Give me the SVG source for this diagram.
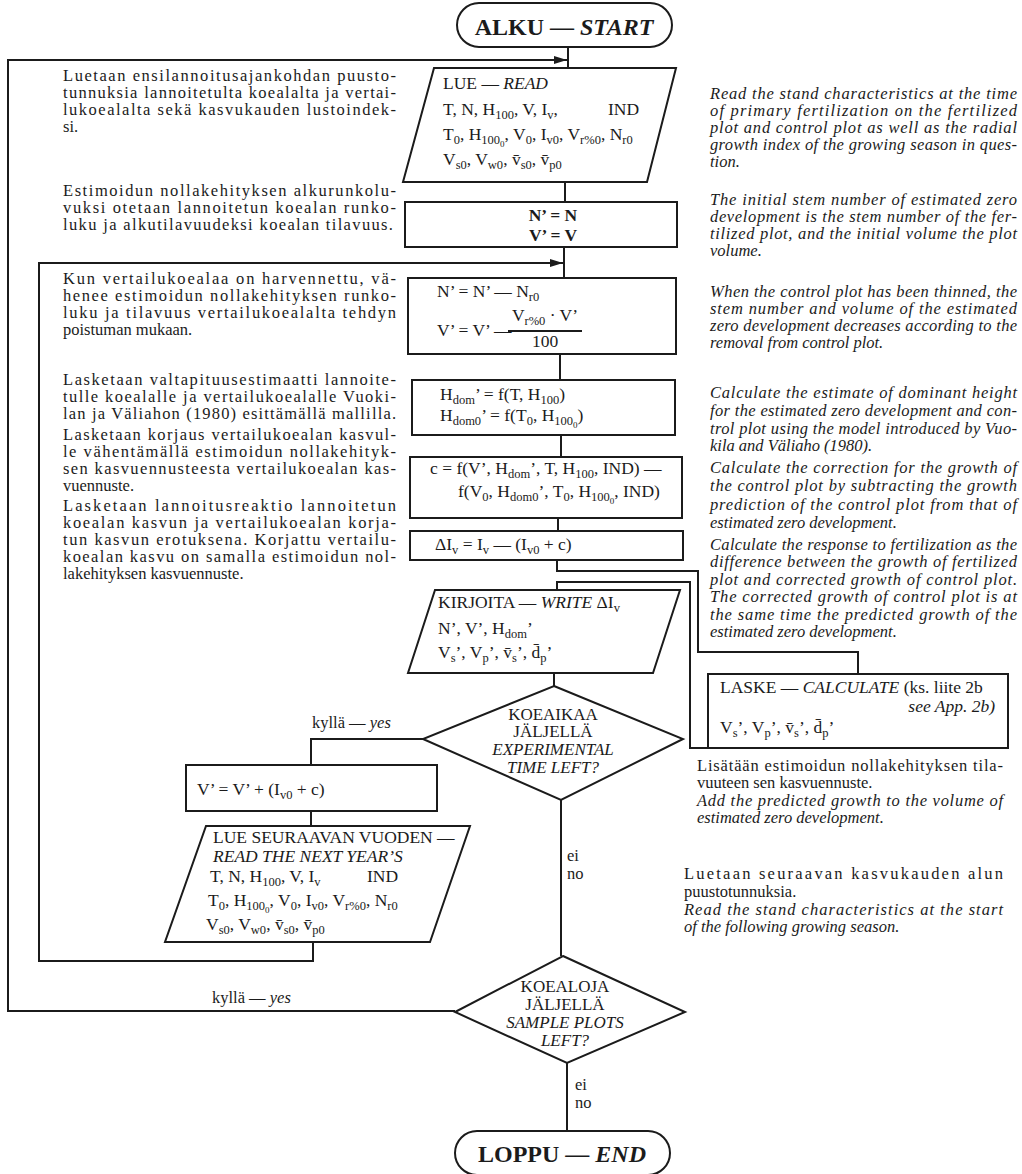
<svg xmlns="http://www.w3.org/2000/svg" width="1022" height="1174" viewBox="0 0 1022 1174">
<style>
.bx{fill:none;stroke:#1b1b1b;stroke-width:2}
.ln{fill:none;stroke:#1b1b1b;stroke-width:2}
text{font-family:"Liberation Serif","Times New Roman",serif;fill:#1b1b1b}
.f{font-size:17.5px}
.p{font-size:16.5px}
.i{font-style:italic}
.b{font-weight:bold}
.term{font-size:24px;font-weight:bold}
.s{font-size:12.5px;baseline-shift:-4px}
.ss{font-size:9px;baseline-shift:-3px}
.dm{font-size:17px}
</style>
<defs>
<marker id="ar" markerUnits="userSpaceOnUse" markerWidth="14" markerHeight="10" refX="13" refY="5" orient="auto">
<path d="M0,1 L13,5 L0,9 z" fill="#1b1b1b"/>
</marker>
</defs>
<rect width="1022" height="1174" fill="#fff"/>

<g id="connectors">
<path class="ln" d="M568,47 V68"/>
<path class="ln" d="M455,1011 H8 V60 H567" marker-end="url(#ar)"/>
<path class="ln" d="M565,182 V202"/>
<path class="ln" d="M313,942 V961 H39 V263 H563" marker-end="url(#ar)"/>
<path class="ln" d="M564,247 V278"/>
<path class="ln" d="M560,354 V380"/>
<path class="ln" d="M561,435 V457"/>
<path class="ln" d="M558,518 V531"/>
<path class="ln" d="M557,560 V571 H698 V652 H858 V674"/>
<path class="ln" d="M708,748 H690 V582 H557 V590"/>
<path class="ln" d="M554,673 V686"/>
<path class="ln" d="M423,739 H311 V765"/>
<path class="ln" d="M311,811 V826"/>
<path class="ln" d="M561,800 V956"/>
<path class="ln" d="M567,1063 V1131"/>
<text class="p" x="312" y="728">kyllä — <tspan class="i">yes</tspan></text>
<text class="p" x="212" y="1003">kyllä — <tspan class="i">yes</tspan></text>
<text class="p" x="567" y="861">ei</text>
<text class="p" x="567" y="879">no</text>
<text class="p" x="575" y="1090">ei</text>
<text class="p" x="575" y="1108">no</text>
</g>

<g id="start">
<rect class="bx" x="457" y="3" width="215" height="44" rx="22"/>
<text class="term" x="564" y="35" text-anchor="middle">ALKU — <tspan class="i">START</tspan></text>
</g>

<g id="read">
<polygon class="bx" points="434,68 676,68 647,182 403,182"/>
<text class="f" x="443" y="89">LUE — <tspan class="i">READ</tspan></text>
<text class="f" x="443" y="115">T, N, H<tspan class="s">100</tspan>, V, I<tspan class="s">v</tspan>,</text>
<text class="f" x="608" y="115">IND</text>
<text class="f" x="443" y="140">T<tspan class="s">0</tspan>, H<tspan class="s">100<tspan class="ss">0</tspan></tspan>, V<tspan class="s">0</tspan>, I<tspan class="s">v0</tspan>, V<tspan class="s">r%0</tspan>, N<tspan class="s">r0</tspan></text>
<text class="f" x="443" y="165">V<tspan class="s">s0</tspan>, V<tspan class="s">w0</tspan>, v&#x304;<tspan class="s">s0</tspan>, v&#x304;<tspan class="s">p0</tspan></text>
</g>

<g id="init">
<rect class="bx" x="405" y="202" width="272" height="45"/>
<text class="f b" x="553" y="221" text-anchor="middle" font-size="19">N’ = N</text>
<text class="f b" x="553" y="241" text-anchor="middle" font-size="19">V’ = V</text>
</g>

<g id="thin">
<rect class="bx" x="408" y="278" width="268" height="76"/>
<text class="f" x="437" y="297">N’ = N’ — N<tspan class="s">r0</tspan></text>
<text class="f" x="437" y="336">V’ = V’ —</text>
<text class="f" x="545" y="321" text-anchor="middle">V<tspan class="s">r%0</tspan> · V’</text>
<path class="ln" d="M508,331 H582" stroke-width="1.5"/>
<text class="f" x="545" y="347" text-anchor="middle">100</text>
</g>

<g id="hdom">
<rect class="bx" x="412" y="380" width="263" height="55"/>
<text class="f" x="440" y="400">H<tspan class="s">dom</tspan>’ = f(T, H<tspan class="s">100</tspan>)</text>
<text class="f" x="440" y="421">H<tspan class="s">dom0</tspan>’ = f(T<tspan class="s">0</tspan>, H<tspan class="s">100<tspan class="ss">0</tspan></tspan>)</text>
</g>

<g id="corr">
<rect class="bx" x="410" y="457" width="272" height="61"/>
<text class="f" x="430" y="474">c = f(V’, H<tspan class="s">dom</tspan>’, T, H<tspan class="s">100</tspan>, IND) —</text>
<text class="f" x="458" y="497">f(V<tspan class="s">0</tspan>, H<tspan class="s">dom0</tspan>’, T<tspan class="s">0</tspan>, H<tspan class="s">100<tspan class="ss">0</tspan></tspan>, IND)</text>
</g>

<g id="resp">
<rect class="bx" x="410" y="531" width="273" height="29"/>
<text class="f" x="435" y="550">ΔI<tspan class="s">v</tspan> = I<tspan class="s">v</tspan> — (I<tspan class="s">v0</tspan> + c)</text>
</g>

<g id="write">
<polygon class="bx" points="435,590 680,590 653,673 408,673"/>
<text class="f" x="438" y="608">KIRJOITA — <tspan class="i">WRITE</tspan> ΔI<tspan class="s">v</tspan></text>
<text class="f" x="438" y="634">N’, V’, H<tspan class="s">dom</tspan>’</text>
<text class="f" x="438" y="658">V<tspan class="s">s</tspan>’, V<tspan class="s">p</tspan>’, v&#x304;<tspan class="s">s</tspan>’, d&#x304;<tspan class="s">p</tspan>’</text>
</g>

<g id="calc">
<rect class="bx" x="708" y="674" width="300" height="74"/>
<text class="f" x="720" y="693">LASKE — <tspan class="i">CALCULATE</tspan> (ks. liite 2b</text>
<text class="f i" x="995" y="712" text-anchor="end">see App. 2b)</text>
<text class="f" x="720" y="733">V<tspan class="s">s</tspan>’, V<tspan class="s">p</tspan>’, v&#x304;<tspan class="s">s</tspan>’, d&#x304;<tspan class="s">p</tspan>’</text>
</g>

<g id="dec1">
<polygon class="bx" points="554,686 683,739 561,800 423,739"/>
<text class="dm" x="553" y="720" text-anchor="middle">KOEAIKAA</text>
<text class="dm" x="553" y="737" text-anchor="middle">JÄLJELLÄ</text>
<text class="dm i" x="553" y="755" text-anchor="middle">EXPERIMENTAL</text>
<text class="dm i" x="553" y="773" text-anchor="middle">TIME LEFT?</text>
</g>

<g id="update">
<rect class="bx" x="186" y="765" width="251" height="46"/>
<text class="f" x="197" y="795">V’ = V’ + (I<tspan class="s">v0</tspan> + c)</text>
</g>

<g id="readnext">
<polygon class="bx" points="206,826 470,826 430,942 165,942"/>
<text class="f" x="213" y="843">LUE SEURAAVAN VUODEN —</text>
<text class="f i" x="213" y="862">READ THE NEXT YEAR’S</text>
<text class="f" x="210" y="882">T, N, H<tspan class="s">100</tspan>, V, I<tspan class="s">v</tspan></text>
<text class="f" x="367" y="882">IND</text>
<text class="f" x="208" y="906">T<tspan class="s">0</tspan>, H<tspan class="s">100<tspan class="ss">0</tspan></tspan>, V<tspan class="s">0</tspan>, I<tspan class="s">v0</tspan>, V<tspan class="s">r%0</tspan>, N<tspan class="s">r0</tspan></text>
<text class="f" x="206" y="930">V<tspan class="s">s0</tspan>, V<tspan class="s">w0</tspan>, v&#x304;<tspan class="s">s0</tspan>, v&#x304;<tspan class="s">p0</tspan></text>
</g>

<g id="dec2">
<polygon class="bx" points="563,956 685,1012 567,1063 455,1012"/>
<text class="dm" x="565" y="992" text-anchor="middle">KOEALOJA</text>
<text class="dm" x="565" y="1010" text-anchor="middle">JÄLJELLÄ</text>
<text class="dm i" x="565" y="1028" text-anchor="middle">SAMPLE PLOTS</text>
<text class="dm i" x="565" y="1046" text-anchor="middle">LEFT?</text>
</g>

<g id="end">
<rect class="bx" x="455" y="1131" width="215" height="44" rx="22"/>
<text class="term" x="562" y="1162" text-anchor="middle">LOPPU — <tspan class="i">END</tspan></text>
</g>

<g id="notes-fi">
<text class="p" x="63" y="81" textLength="333" lengthAdjust="spacing">Luetaan ensilannoitusajankohdan puusto-</text>
<text class="p" x="63" y="98" textLength="333" lengthAdjust="spacing">tunnuksia lannoitetulta koealalta ja vertai-</text>
<text class="p" x="63" y="115" textLength="333" lengthAdjust="spacing">lukoealalta sekä kasvukauden lustoindek-</text>
<text class="p" x="63" y="132">si.</text>

<text class="p" x="63" y="196" textLength="333" lengthAdjust="spacing">Estimoidun nollakehityksen alkurunkolu-</text>
<text class="p" x="63" y="213" textLength="333" lengthAdjust="spacing">vuksi otetaan lannoitetun koealan runko-</text>
<text class="p" x="63" y="230" textLength="330" lengthAdjust="spacing">luku ja alkutilavuudeksi koealan tilavuus.</text>

<text class="p" x="63" y="284" textLength="333" lengthAdjust="spacing">Kun vertailukoealaa on harvennettu, vä-</text>
<text class="p" x="63" y="301" textLength="333" lengthAdjust="spacing">henee estimoidun nollakehityksen runko-</text>
<text class="p" x="63" y="318" textLength="333" lengthAdjust="spacing">luku ja tilavuus vertailukoealalta tehdyn</text>
<text class="p" x="63" y="335">poistuman mukaan.</text>

<text class="p" x="63" y="385" textLength="333" lengthAdjust="spacing">Lasketaan valtapituusestimaatti lannoite-</text>
<text class="p" x="63" y="402" textLength="333" lengthAdjust="spacing">tulle koealalle ja vertailukoealalle Vuoki-</text>
<text class="p" x="63" y="419" textLength="333" lengthAdjust="spacing">lan ja Väliahon (1980) esittämällä mallilla.</text>

<text class="p" x="63" y="440" textLength="333" lengthAdjust="spacing">Lasketaan korjaus vertailukoealan kasvul-</text>
<text class="p" x="63" y="457" textLength="333" lengthAdjust="spacing">le vähentämällä estimoidun nollakehityk-</text>
<text class="p" x="63" y="474" textLength="333" lengthAdjust="spacing">sen kasvuennusteesta vertailukoealan kas-</text>
<text class="p" x="63" y="491">vuennuste.</text>

<text class="p" x="63" y="511" textLength="333" lengthAdjust="spacing">Lasketaan lannoitusreaktio lannoitetun</text>
<text class="p" x="63" y="528" textLength="333" lengthAdjust="spacing">koealan kasvun ja vertailukoealan korja-</text>
<text class="p" x="63" y="545" textLength="333" lengthAdjust="spacing">tun kasvun erotuksena. Korjattu vertailu-</text>
<text class="p" x="63" y="562" textLength="333" lengthAdjust="spacing">koealan kasvu on samalla estimoidun nol-</text>
<text class="p" x="63" y="579">lakehityksen kasvuennuste.</text>

<text class="p" x="697" y="771" textLength="306" lengthAdjust="spacing">Lisätään estimoidun nollakehityksen tila-</text>
<text class="p" x="697" y="788">vuuteen sen kasvuennuste.</text>
<text class="p" x="684" y="879" textLength="319" lengthAdjust="spacing">Luetaan seuraavan kasvukauden alun</text>
<text class="p" x="684" y="897">puustotunnuksia.</text>
</g>

<g id="notes-en">
<text class="p i" x="710" y="99" textLength="307" lengthAdjust="spacing">Read the stand characteristics at the time</text>
<text class="p i" x="710" y="116" textLength="307" lengthAdjust="spacing">of primary fertilization on the fertilized</text>
<text class="p i" x="710" y="133" textLength="307" lengthAdjust="spacing">plot and control plot as well as the radial</text>
<text class="p i" x="710" y="150" textLength="307" lengthAdjust="spacing">growth index of the growing season in ques-</text>
<text class="p i" x="710" y="167">tion.</text>

<text class="p i" x="710" y="205" textLength="307" lengthAdjust="spacing">The initial stem number of estimated zero</text>
<text class="p i" x="710" y="222" textLength="307" lengthAdjust="spacing">development is the stem number of the fer-</text>
<text class="p i" x="710" y="239" textLength="307" lengthAdjust="spacing">tilized plot, and the initial volume the plot</text>
<text class="p i" x="710" y="256">volume.</text>

<text class="p i" x="710" y="297" textLength="307" lengthAdjust="spacing">When the control plot has been thinned, the</text>
<text class="p i" x="710" y="314" textLength="307" lengthAdjust="spacing">stem number and volume of the estimated</text>
<text class="p i" x="710" y="331" textLength="307" lengthAdjust="spacing">zero development decreases according to the</text>
<text class="p i" x="710" y="348">removal from control plot.</text>

<text class="p i" x="710" y="398" textLength="307" lengthAdjust="spacing">Calculate the estimate of dominant height</text>
<text class="p i" x="710" y="416" textLength="307" lengthAdjust="spacing">for the estimated zero development and con-</text>
<text class="p i" x="710" y="434" textLength="307" lengthAdjust="spacing">trol plot using the model introduced by Vuo-</text>
<text class="p i" x="710" y="451">kila and Väliaho (1980).</text>

<text class="p i" x="710" y="473" textLength="307" lengthAdjust="spacing">Calculate the correction for the growth of</text>
<text class="p i" x="710" y="491" textLength="307" lengthAdjust="spacing">the control plot by subtracting the growth</text>
<text class="p i" x="710" y="510" textLength="307" lengthAdjust="spacing">prediction of the control plot from that of</text>
<text class="p i" x="710" y="528">estimated zero development.</text>

<text class="p i" x="710" y="550" textLength="307" lengthAdjust="spacing">Calculate the response to fertilization as the</text>
<text class="p i" x="710" y="567" textLength="307" lengthAdjust="spacing">difference between the growth of fertilized</text>
<text class="p i" x="710" y="585" textLength="307" lengthAdjust="spacing">plot and corrected growth of control plot.</text>
<text class="p i" x="710" y="602" textLength="307" lengthAdjust="spacing">The corrected growth of control plot is at</text>
<text class="p i" x="710" y="620" textLength="307" lengthAdjust="spacing">the same time the predicted growth of the</text>
<text class="p i" x="710" y="637">estimated zero development.</text>

<text class="p i" x="697" y="806" textLength="306" lengthAdjust="spacing">Add the predicted growth to the volume of</text>
<text class="p i" x="697" y="823">estimated zero development.</text>
<text class="p i" x="684" y="915" textLength="319" lengthAdjust="spacing">Read the stand characteristics at the start</text>
<text class="p i" x="684" y="932">of the following growing season.</text>
</g>
</svg>
